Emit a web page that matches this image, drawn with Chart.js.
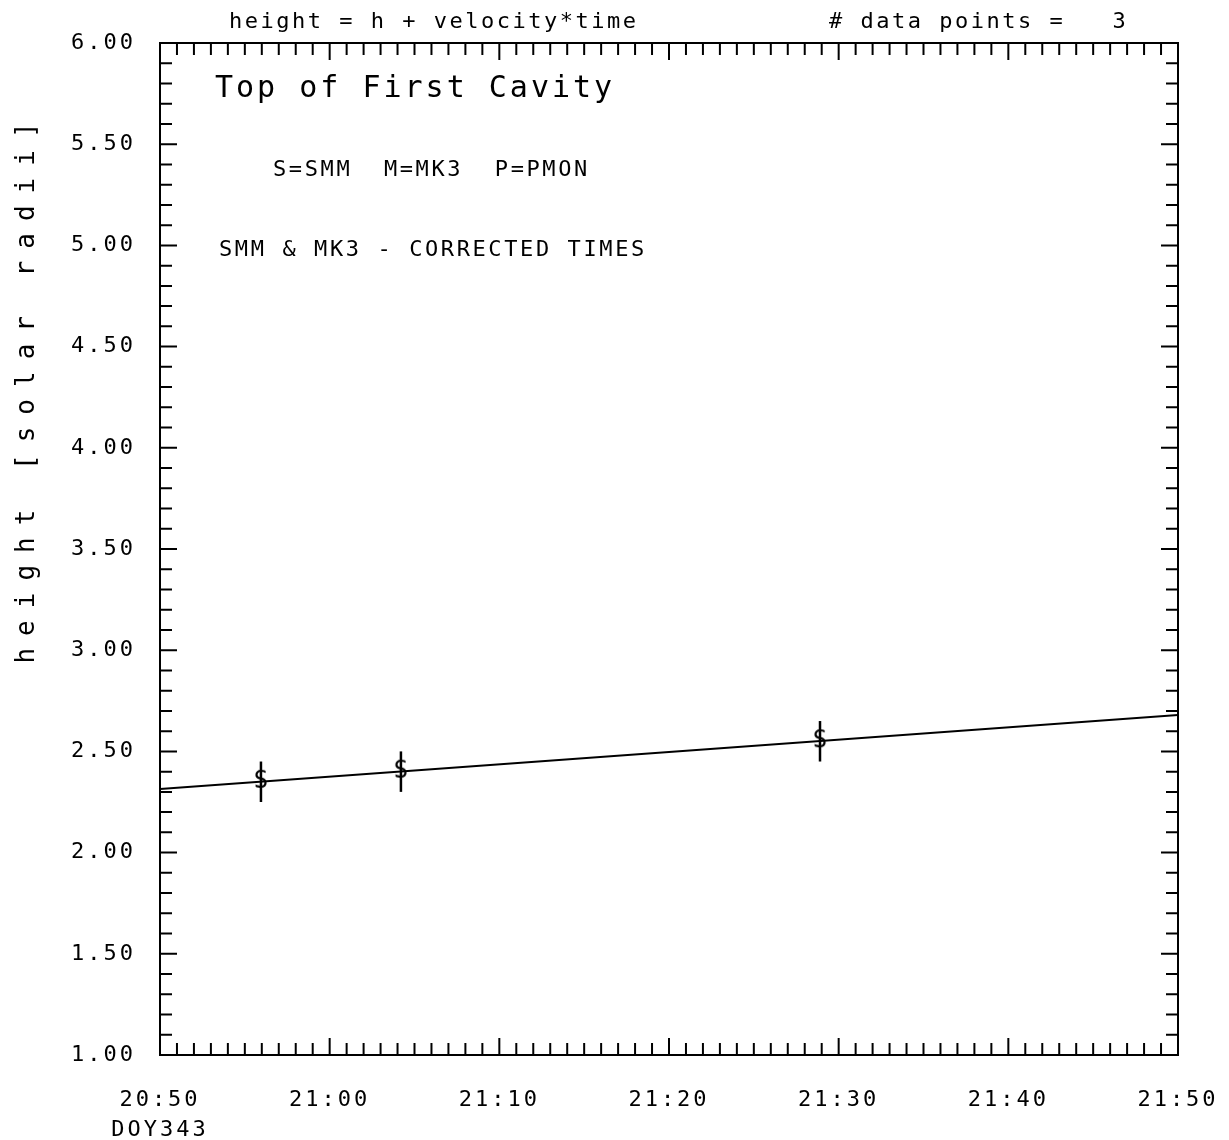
<!DOCTYPE html>
<html>
<head>
<meta charset="utf-8">
<script src="https://cdn.jsdelivr.net/npm/chart.js@4.4.0/dist/chart.umd.min.js"></script>
<style>
  html, body { margin: 0; padding: 0; background: #fff; }
  #wrap { width: 1229px; height: 1140px; }
</style>
</head>
<body>
<div id="wrap"><canvas id="plot"></canvas></div>
<script>
// time axis is minutes after 20:50 on DOY343
var obsMinutes = [5.95, 14.2, 38.9];
var obsHeight = [2.35, 2.40, 2.55];
var obsError = [0.10, 0.10, 0.10];

// fitted height = h + velocity*time, read at the plot edges
var fitMinutes = [0, 60];
var fitHeight = [2.314, 2.68];

var xTickLabels = ['20:50', '21:00', '21:10', '21:20', '21:30', '21:40', '21:50'];
var dayLabel = 'DOY343';

var FONT = '"DejaVu Sans Mono", "Liberation Mono", monospace';

// the plotted symbol is the letter S (SMM)
function makeSymbol() {
    var c = document.createElement('canvas');
    c.width = 24; c.height = 28;
    var g = c.getContext('2d');
    g.fillStyle = '#000';
    g.font = '24px ' + FONT;
    g.textAlign = 'center';
    g.textBaseline = 'middle';
    g.fillText('S', 12, 14);
    return c;
}

function spacing(ctx) { ctx.letterSpacing = '3px'; }

var framePlugin = {
    id: 'frame',
    beforeLayout: function (chart) { spacing(chart.ctx); },
    beforeDraw: function (chart) { spacing(chart.ctx); },
    afterDatasetsDraw: function (chart) {
        var ctx = chart.ctx, xs = chart.scales.x, ys = chart.scales.y;
        ctx.save();
        ctx.strokeStyle = '#000';
        ctx.lineWidth = 2.5;
        for (var i = 0; i < obsMinutes.length; i++) {
            var px = xs.getPixelForValue(obsMinutes[i]);
            ctx.beginPath();
            ctx.moveTo(px, ys.getPixelForValue(obsHeight[i] + obsError[i]));
            ctx.lineTo(px, ys.getPixelForValue(obsHeight[i] - obsError[i]));
            ctx.stroke();
        }
        ctx.restore();
    },
    afterDraw: function (chart) {
        var ctx = chart.ctx, a = chart.chartArea;
        var xs = chart.scales.x, ys = chart.scales.y;
        ctx.save();
        ctx.strokeStyle = '#000';
        ctx.lineWidth = 2;
        ctx.strokeRect(a.left, a.top, a.right - a.left, a.bottom - a.top);

        ctx.beginPath();
        for (var m = 1; m < 60; m++) {
            var px = xs.getPixelForValue(m);
            var len = (m % 10 === 0) ? 17 : 12;
            ctx.moveTo(px, a.bottom); ctx.lineTo(px, a.bottom - len);
            ctx.moveTo(px, a.top); ctx.lineTo(px, a.top + len);
        }
        for (var k = 11; k < 60; k++) {
            var py = ys.getPixelForValue(k / 10);
            var l2 = (k % 5 === 0) ? 17 : 12;
            ctx.moveTo(a.left, py); ctx.lineTo(a.left + l2, py);
            ctx.moveTo(a.right, py); ctx.lineTo(a.right - l2, py);
        }
        ctx.stroke();

        ctx.fillStyle = '#000';
        ctx.textBaseline = 'alphabetic';
        ctx.textAlign = 'left';

        ctx.font = '22px ' + FONT;
        ctx.letterSpacing = '2.5px';
        ctx.fillText('height = h + velocity*time', 229, 28);
        ctx.fillText('# data points =   3', 829, 28);

        ctx.font = '30px ' + FONT;
        ctx.letterSpacing = '3px';
        ctx.fillText('Top of First Cavity', 215, 97);

        ctx.font = '22px ' + FONT;
        ctx.letterSpacing = '2.6px';
        ctx.fillText('S=SMM  M=MK3  P=PMON', 273, 176);
        ctx.fillText('SMM & MK3 - CORRECTED TIMES', 219, 256);

        ctx.translate(34, 387);
        ctx.rotate(-Math.PI / 2);
        ctx.textAlign = 'center';
        ctx.font = '26px ' + FONT;
        ctx.letterSpacing = '12px';
        ctx.fillText('height [solar radii]', 0, 0);
        ctx.restore();
    }
};

var tickFont = { family: FONT, size: 22, lineHeight: 1.36 };

var chart = new Chart(document.getElementById('plot'), {
    type: 'scatter',
    data: {
        datasets: [
            {
                label: 'SMM',
                data: obsMinutes.map(function (t, i) { return { x: t, y: obsHeight[i] }; }),
                pointStyle: makeSymbol(),
                pointRadius: 12,
                showLine: false
            },
            {
                label: 'fit',
                data: fitMinutes.map(function (t, i) { return { x: t, y: fitHeight[i] }; }),
                showLine: true,
                borderColor: '#000',
                borderWidth: 2,
                pointRadius: 0
            }
        ]
    },
    options: {
        responsive: true,
        maintainAspectRatio: false,
        animation: false,
        layout: { padding: { top: 43, right: 51, left: 0, bottom: 0 } },
        plugins: { legend: { display: false }, tooltip: { enabled: false } },
        scales: {
            x: {
                type: 'linear', min: 0, max: 60,
                grid: { display: false, drawTicks: false },
                border: { display: false },
                ticks: {
                    stepSize: 10, color: '#000', font: tickFont, padding: 30, maxRotation: 0,
                    callback: function (v) {
                        var lab = xTickLabels[Math.round(v / 10)];
                        return v === 0 ? [lab, dayLabel] : lab;
                    }
                },
                afterFit: function (s) { s.height = 85; s.paddingLeft = 0; s.paddingRight = 0; }
            },
            y: {
                min: 1, max: 6,
                grid: { display: false, drawTicks: false },
                border: { display: false },
                ticks: {
                    stepSize: 0.5, color: '#000', font: tickFont, padding: 24,
                    callback: function (v) { return v.toFixed(2); }
                },
                afterFit: function (s) { s.width = 160; s.paddingTop = 0; s.paddingBottom = 0; }
            }
        }
    },
    plugins: [framePlugin]
});
</script>
</body>
</html>
